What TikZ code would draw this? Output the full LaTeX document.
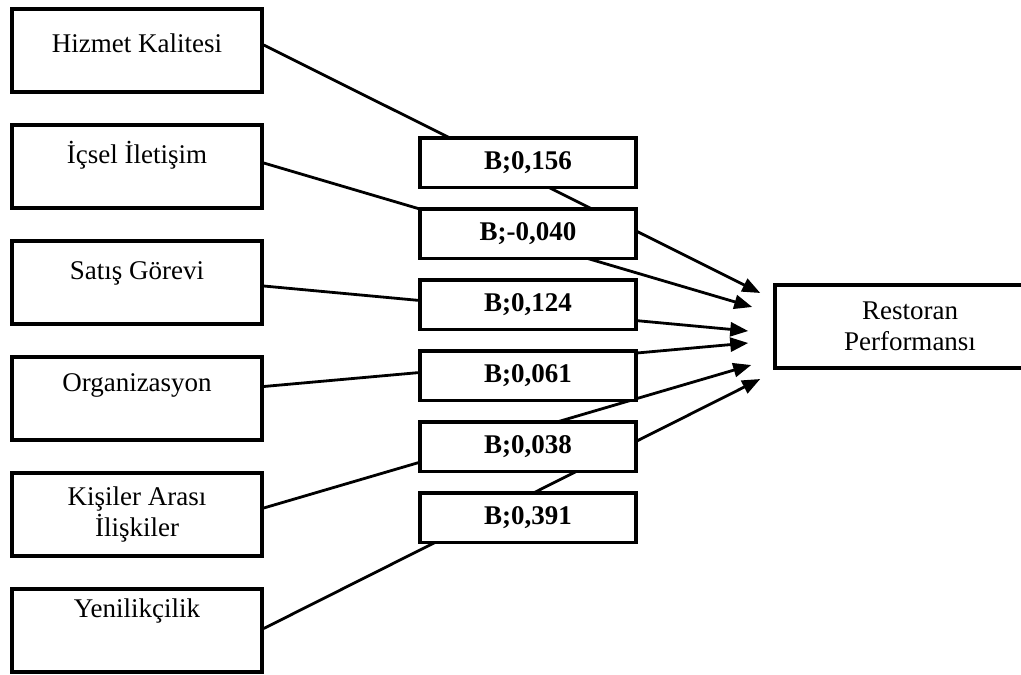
\documentclass[tikz,border=0pt]{standalone}
\usepackage{fontspec}
\setmainfont{Liberation Serif}
\usetikzlibrary{positioning,arrows.meta}

\begin{document}
\begin{tikzpicture}[
  x=1pt, y=-1pt,
  node distance=29.5pt,
  font=\fontsize{27}{31}\selectfont,
  factor/.style={draw,line width=3.5pt,minimum width=250pt,minimum height=83pt,align=center,inner sep=0pt},
  lift/.style={text height=18pt,text depth=#1},
  coef/.style={draw,fill=white,line width=3.5pt,minimum width=216pt,minimum height=49.5pt,inner sep=0pt,font=\fontsize{27}{31}\selectfont\bfseries},
  outcome/.style={draw,line width=3.5pt,minimum width=270pt,minimum height=83pt,align=center,inner sep=0pt},
  arr/.style={-{Triangle[length=18pt,width=14pt]},line width=2.8pt},
]
\useasboundingbox (0,0) rectangle (1021,675);

% left column, top to bottom
\node[factor,lift=15pt]           (hk)  at (137,50.5) {Hizmet Kalitesi};
\node[factor,lift=25pt,below=of hk]  (ii)  {İçsel İletişim};
\node[factor,lift=25pt,below=of ii]  (sg)  {Satış Görevi};
\node[factor,lift=32pt,below=of sg]  (org) {Organizasyon};
\node[factor,below=of org]           (ka)  {Kişiler Arası\\İlişkiler};
\node[factor,lift=44pt,below=of ka]  (yen) {Yenilikçilik};

% outcome, runs past the right edge
\node[outcome] (rp) at (910,326.5) {Restoran\\Performansı};

% paths (drawn first, the coefficient boxes cover them)
\draw[arr] ([yshift=5.5pt]hk.east)  -- ([xshift=-13pt,yshift=33.5pt]rp.west);
\draw[arr] ([yshift=3.5pt]ii.east)  -- ([xshift=-21pt,yshift=19.5pt]rp.west);
\draw[arr] ([yshift=-3.5pt]sg.east) -- ([xshift=-25pt,yshift=-4.5pt]rp.west);
\draw[arr] ([yshift=12pt]org.east)  -- ([xshift=-25pt,yshift=-16.5pt]rp.west);
\draw[arr] ([yshift=6.5pt]ka.east)  -- ([xshift=-22pt,yshift=-38.5pt]rp.west);
\draw[arr] ([yshift=2pt]yen.east)   -- ([xshift=-13pt,yshift=-52.5pt]rp.west);

% coefficients
\node[coef] (b1) at (528,162.5) {B;0,156};
\node[coef,below=18pt of b1] (b2) {B;-0,040};
\node[coef,below=18pt of b2] (b3) {B;0,124};
\node[coef,below=18pt of b3] (b4) {B;0,061};
\node[coef,below=18pt of b4] (b5) {B;0,038};
\node[coef,below=18pt of b5] (b6) {B;0,391};
\end{tikzpicture}
\end{document}
